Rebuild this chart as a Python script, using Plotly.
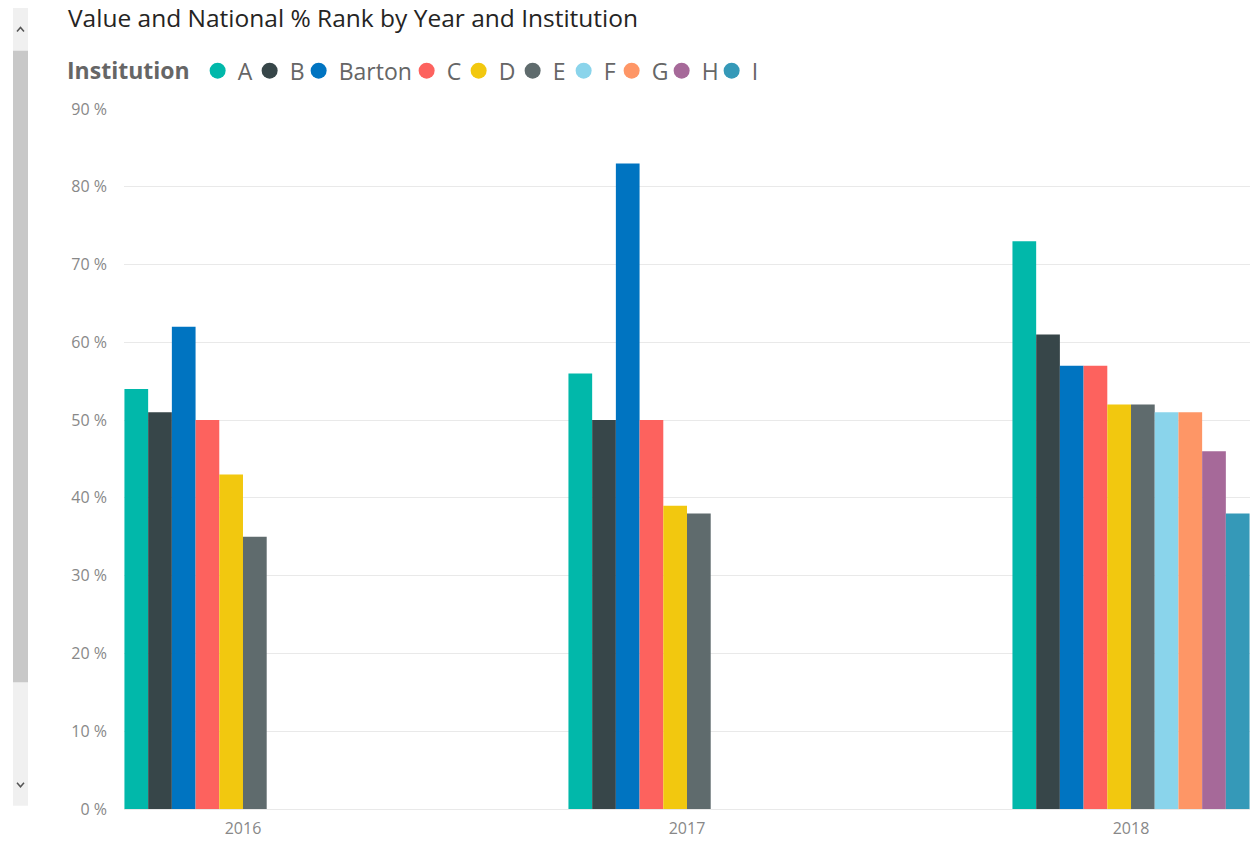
import plotly.graph_objects as go

years = ["2016", "2017", "2018"]
institutions = ["A", "B", "Barton", "C", "D", "E", "F", "G", "H", "I"]
values = {
    "A":      [54, 56, 73],
    "B":      [51, 50, 61],
    "Barton": [62, 83, 57],
    "C":      [50, 50, 57],
    "D":      [43, 39, 52],
    "E":      [35, 38, 52],
    "F":      [None, None, 51],
    "G":      [None, None, 51],
    "H":      [None, None, 46],
    "I":      [None, None, 38],
}
colors = {
    "A": "#01B8AA", "B": "#374649", "Barton": "#0074C1", "C": "#FD625E",
    "D": "#F2C80F", "E": "#5F6B6D", "F": "#8AD4EB", "G": "#FE9666",
    "H": "#A66999", "I": "#3599B8",
}
y_ticks = [0, 10, 20, 30, 40, 50, 60, 70, 80, 90]
y_labels = [f"{v} %" for v in y_ticks]

W, H = 1256, 845
SY = 1.0045  # small vertical compensation observed in the rendered page
ML, MR = 124, 6
MT = round(109 * SY)
MB = round(H - 812 * SY)
PW, PH = W - ML - MR, H - MT - MB

# legend entry widths (px) to keep the legend compact
legend_widths = {"A": 7, "B": 4, "Barton": 63, "C": 7, "D": 9, "E": 6,
                 "F": 3, "G": 5, "H": 5, "I": 7}


def px_x(p):
    return (p - ML) / PW


def px_y(p):
    return (H - MB - p * SY) / PH


fig = go.Figure()
for name in institutions:
    fig.add_trace(go.Bar(
        x=years, y=values[name], name=name,
        marker=dict(color=colors[name], line=dict(width=0)),
        showlegend=False, legendgroup=name,
        hovertemplate="%{x}<br>" + name + ": %{y} %<extra></extra>",
    ))
    fig.add_trace(go.Scatter(
        x=[None], y=[None], mode="markers", name=name, legendgroup=name,
        marker=dict(color=colors[name], size=16, symbol="circle"),
        showlegend=True, hoverinfo="skip", legendwidth=legend_widths[name],
    ))

shapes = [
    dict(type="rect", xref="paper", yref="paper",
         x0=px_x(13), x1=px_x(28), y0=px_y(809), y1=px_y(7),
         fillcolor="#F0F0F0", line=dict(width=0), layer="below"),
    dict(type="rect", xref="paper", yref="paper",
         x0=px_x(13), x1=px_x(28), y0=px_y(685), y1=px_y(50),
         fillcolor="#C8C8C8", line=dict(width=0), layer="below"),
    dict(type="path", xref="paper", yref="paper",
         path="M{},{} L{},{} L{},{}".format(px_x(17), px_y(30.5), px_x(20.5), px_y(26.5), px_x(24), px_y(30.5)),
         line=dict(color="#555555", width=1.5)),
    dict(type="path", xref="paper", yref="paper",
         path="M{},{} L{},{} L{},{}".format(px_x(17), px_y(786), px_x(20.5), px_y(790), px_x(24), px_y(786)),
         line=dict(color="#555555", width=1.5)),
]

fig.update_layout(
    width=W, height=H,
    margin=dict(l=ML, r=MR, t=MT, b=MB, pad=0),
    paper_bgcolor="white", plot_bgcolor="white",
    barmode="group", bargap=0.466, bargroupgap=0,
    font=dict(family="Open Sans, sans-serif", color="#666666"),
    title=dict(text="Value and National % Rank by Year and Institution",
               x=68 / W, xanchor="left", xref="container",
               y=1 - 18 * SY / H, yanchor="middle", yref="container",
               font=dict(size=24.5, color="#252423", family="Open Sans, sans-serif")),
    legend=dict(orientation="h", x=px_x(65), xanchor="left",
                y=px_y(70), yanchor="middle",
                title=dict(text="<b>Institution</b>", font=dict(size=23, color="#666666")),
                font=dict(size=23, color="#666666"),
                itemwidth=30, tracegroupgap=0, bgcolor="rgba(0,0,0,0)"),
    xaxis=dict(type="category", range=[-0.268, 2.268], showgrid=False,
               showline=False, ticks="", ticklabelstandoff=8,
               tickfont=dict(size=16, color="#888888")),
    yaxis=dict(range=[0, 90], tickmode="array", tickvals=y_ticks, ticktext=y_labels,
               showgrid=True, gridcolor="#E9E9E9", gridwidth=1,
               zeroline=True, zerolinecolor="#E9E9E9", zerolinewidth=1,
               showline=False, ticks="", ticklabelstandoff=16,
               tickfont=dict(size=16, color="#888888")),
    shapes=shapes,
)

fig.write_html(
    "out.html",
    config={"displayModeBar": False},
    post_script="document.body.style.margin='0px';",
)
